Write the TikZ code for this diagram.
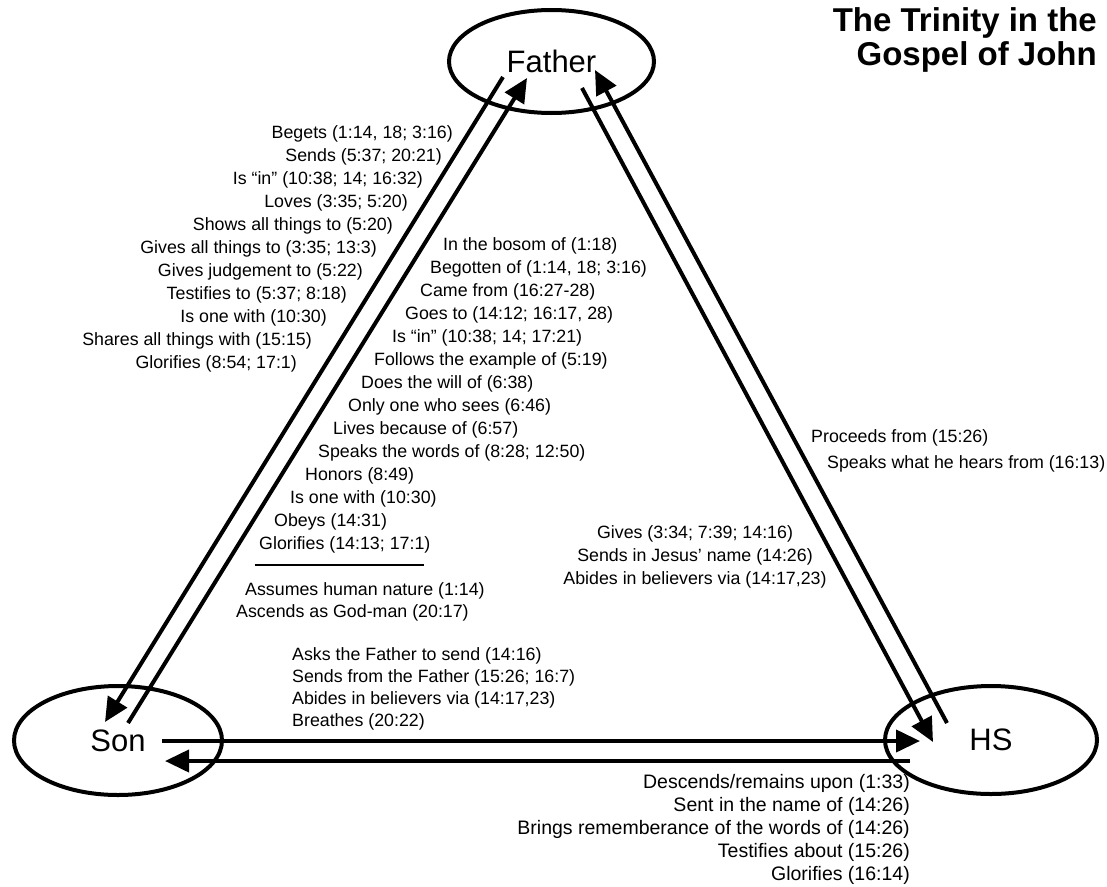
\documentclass[tikz,border=0pt]{standalone}
\usepackage{fontspec}
\setmainfont{Liberation Sans}
\usepackage{tikz}
\usetikzlibrary{arrows.meta,shapes.geometric}

\begin{document}
\begin{tikzpicture}[
  x=1pt, y=-1pt,
  person/.style={draw,ellipse,line width=4pt,inner sep=0pt,
                 font=\fontsize{31}{36}\selectfont},
  item/.style={inner sep=0pt,font=\fontsize{17.8}{23}\selectfont},
  flow/.style={-{Triangle[length=24pt,width=22pt]},line width=4pt}
]
\useasboundingbox (0,0) rectangle (1107,886);

% the three persons
\node[person,minimum width=205pt,minimum height=103pt] (father) at (551.5,61.5) {Father};
\node[person,minimum width=208pt,minimum height=109pt] (son) at (118,740.5) {Son};
\node[person,minimum width=212pt,minimum height=108pt] (hs) at (991,740) {HS};

\node[anchor=north east,align=right,inner sep=0pt,
      font=\fontsize{33}{34}\selectfont\bfseries] (title) at (1097,7)
  {The Trinity in the\\Gospel of John};

% arrow ends
\coordinate (fs-a) at (503,77);  \coordinate (fs-b) at (105,722);
\coordinate (sf-a) at (128,723); \coordinate (sf-b) at (527,78);
\coordinate (fh-a) at (582,88);  \coordinate (fh-b) at (933,742);
\coordinate (hf-a) at (947,723); \coordinate (hf-b) at (595,70);
\coordinate (sh-a) at (162,741); \coordinate (sh-b) at (920,741);
\coordinate (hs-a) at (910,761); \coordinate (hs-b) at (165,761);

\draw[flow] (fs-a) -- (fs-b);
\draw[flow] (sf-a) -- (sf-b);
\draw[flow] (fh-a) -- (fh-b);
\draw[flow] (hf-a) -- (hf-b);
\draw[flow] (sh-a) -- (sh-b);
\draw[flow] (hs-a) -- (hs-b);

% Father -> Son
\node[item,anchor=base east] (lf1) at (453,138.5) {Begets (1:14, 18; 3:16)};
\node[item,anchor=base east] (lf2) at (442,161.5) {Sends (5:37; 20:21)};
\node[item,anchor=base east] (lf3) at (423,184.5) {Is “in” (10:38; 14; 16:32)};
\node[item,anchor=base east] (lf4) at (408,207.5) {Loves (3:35; 5:20)};
\node[item,anchor=base east] (lf5) at (393,230.5) {Shows all things to (5:20)};
\node[item,anchor=base east] (lf6) at (377,253.5) {Gives all things to (3:35; 13:3)};
\node[item,anchor=base east] (lf7) at (363,276.5) {Gives judgement to (5:22)};
\node[item,anchor=base east] (lf8) at (347,299.5) {Testifies to (5:37; 8:18)};
\node[item,anchor=base east] (lf9) at (327,322.5) {Is one with (10:30)};
\node[item,anchor=base east] (lf10) at (312,345.5) {Shares all things with (15:15)};
\node[item,anchor=base east] (lf11) at (297,368.5) {Glorifies (8:54; 17:1)};

% Son -> Father
\node[item,anchor=base west] (ls1) at (443,250.5) {In the bosom of (1:18)};
\node[item,anchor=base west] (ls2) at (430,273.5) {Begotten of (1:14, 18; 3:16)};
\node[item,anchor=base west] (ls3) at (420,296.5) {Came from (16:27-28)};
\node[item,anchor=base west] (ls4) at (405,319.5) {Goes to (14:12; 16:17, 28)};
\node[item,anchor=base west] (ls5) at (392,342.5) {Is “in” (10:38; 14; 17:21)};
\node[item,anchor=base west] (ls6) at (374,365.5) {Follows the example of (5:19)};
\node[item,anchor=base west] (ls7) at (361,388.5) {Does the will of (6:38)};
\node[item,anchor=base west] (ls8) at (348,411.5) {Only one who sees (6:46)};
\node[item,anchor=base west] (ls9) at (333,434.5) {Lives because of (6:57)};
\node[item,anchor=base west] (ls10) at (318,457.5) {Speaks the words of (8:28; 12:50)};
\node[item,anchor=base west] (ls11) at (305,480.5) {Honors (8:49)};
\node[item,anchor=base west] (ls12) at (290,503.5) {Is one with (10:30)};
\node[item,anchor=base west] (ls13) at (274,526.5) {Obeys (14:31)};
\node[item,anchor=base west] (ls14) at (259,549.5) {Glorifies (14:13; 17:1)};
\draw[line width=2.5pt] (255,565) -- (424,565);
\node[item,anchor=base west] (ls15) at (245,595.5) {Assumes human nature (1:14)};
\node[item,anchor=base west] (ls16) at (236,617) {Ascends as God-man (20:17)};

% Father -> HS
\node[item,align=center] (lfh) at (695,556.5)
  {Gives (3:34; 7:39; 14:16)\\Sends in Jesus’ name (14:26)\\Abides in believers via (14:17,23)};

% HS -> Father
\node[item,anchor=base west] (lh1) at (811,442.5) {Proceeds from (15:26)};
\node[item,anchor=base west] (lh2) at (827,468) {Speaks what he hears from (16:13)};

% Son -> HS
\node[item,anchor=west,align=left,font=\fontsize{17.8}{22}\selectfont] (lsh) at (292,689)
  {Asks the Father to send (14:16)\\Sends from the Father (15:26; 16:7)\\Abides in believers via (14:17,23)\\Breathes (20:22)};

% HS -> Son
\node[item,anchor=east,align=right,font=\fontsize{19.5}{22.8}\selectfont] (lhs) at (910,829.5)
  {Descends/remains upon (1:33)\\Sent in the name of (14:26)\\Brings rememberance of the words of (14:26)\\Testifies about (15:26)\\Glorifies (16:14)};
\end{tikzpicture}
\end{document}
